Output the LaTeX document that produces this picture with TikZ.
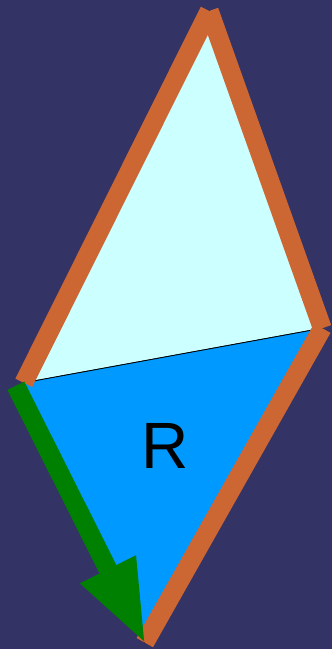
\documentclass[tikz,border=0pt]{standalone}
\usepackage{fontspec}
\setmainfont{Liberation Sans}
\usetikzlibrary{arrows.meta}
\definecolor{bgnavy}{HTML}{333366}
\definecolor{paleaqua}{HTML}{CCFFFF}
\definecolor{skyblue}{HTML}{0099FF}
\definecolor{rimorange}{HTML}{CC6633}
\definecolor{arrowgreen}{HTML}{008000}
\begin{document}
\begin{tikzpicture}[x=1pt,y=-1pt,
  rim/.style={draw=rimorange,line width=19pt},
  face/.style={draw=black,line width=.8pt}]
  \fill[bgnavy] (0,0) rectangle (335,654);
  \coordinate (T) at (211,11);
  \coordinate (L) at (24,386);
  \coordinate (R) at (325,331);
  \coordinate (B) at (146,648);
  \coordinate (G0) at (16,389);
  \coordinate (G1) at (147,650);
  \filldraw[face,fill=paleaqua] (T) -- (R) -- (L) -- cycle;
  \filldraw[face,fill=skyblue] (L) -- (R) -- (B) -- cycle;
  \draw[rim] (L) -- (T);
  \draw[rim] (T) -- (R);
  \draw[rim] (R) -- (B);
  \draw[arrowgreen,line width=19pt,-{Triangle[length=85pt,width=57pt]}] (G0) -- (G1);
  \node[font=\fontsize{66}{66}\selectfont] (lbl) at (167,450) {R};
\end{tikzpicture}
\end{document}
